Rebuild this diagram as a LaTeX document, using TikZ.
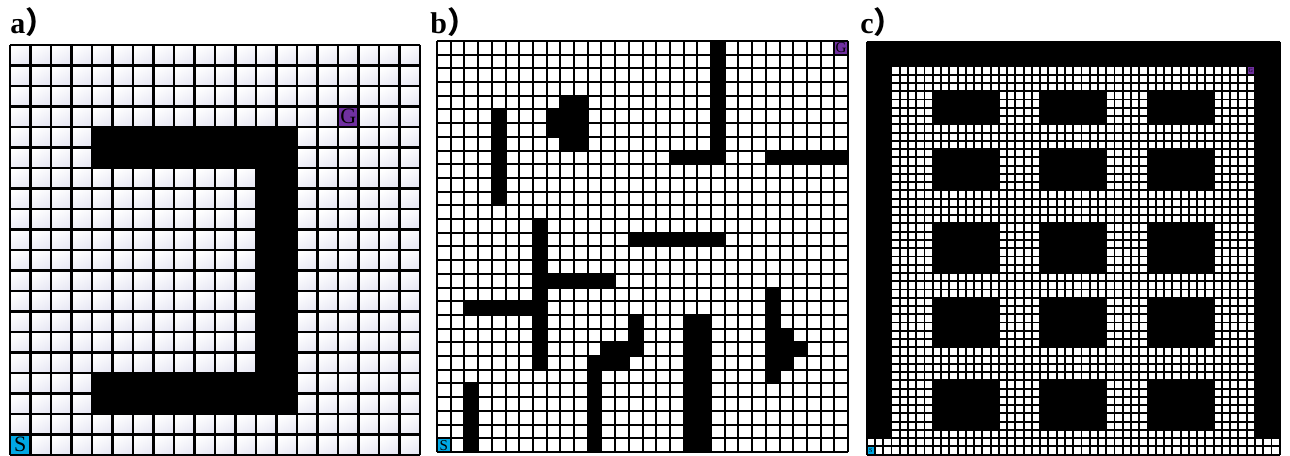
\documentclass[tikz,border=0pt]{standalone}
\usepackage{fontspec}
\setmainfont{Liberation Serif}
\newfontfamily\cjkfont{Noto Sans CJK SC}
\usetikzlibrary{positioning}
\definecolor{startblue}{RGB}{0,168,228}
\definecolor{goalpurple}{RGB}{112,48,160}
\definecolor{cellgray}{RGB}{232,232,244}
\tikzset{
  cellfill/.style={top color=white,bottom color=cellgray,shading angle=30},
  gridline/.style={draw=black,line width=#1},
  wall/.style={fill=black},
  startcell/.style={fill=startblue},
  goalcell/.style={fill=goalpurple},
  celltext/.style={inner sep=0pt,text=black,font=\fontsize{#1}{#1}\selectfont},
  panellabel/.style={anchor=base west,inner sep=0pt,font=\fontsize{15}{18}\selectfont\bfseries},
}

\begin{document}
\begin{tikzpicture}[x=0.5pt,y=0.5pt]
  \useasboundingbox (0,0) rectangle (1290,455);
  \node[panellabel] (la) at (10,421) {a{\cjkfont ）}};
  \node[panellabel] (lb) at (430,421) {b{\cjkfont ）}};
  \node[panellabel] (lc) at (860,421) {c{\cjkfont ）}};

  % a) 20 x 20
  \begin{scope}[shift={(10,410)},x=10.25pt,y=-10.25pt]
    \foreach \c in {0,...,19}
      \foreach \r in {0,...,19}
        \shade[cellfill] (\c,\r) rectangle ++(1,1);
    \fill[startcell] (0,19) rectangle (1,20);
    \fill[goalcell] (16,3) rectangle (17,4);
    \foreach \i in {0,...,20} {
      \draw[gridline=1.1pt] (\i,0) -- (\i,20);
      \draw[gridline=1.1pt] (0,\i) -- (20,\i);
    }
    \fill[wall] (4,4) rectangle (14,6);
    \fill[wall] (12,6) rectangle (14,16);
    \fill[wall] (4,16) rectangle (14,18);
    \node[celltext=11] (sa) at (0.5,19.5) {S};
    \node[celltext=11] (ga) at (16.5,3.5) {G};
  \end{scope}

  % b) 30 x 30
  \begin{scope}[shift={(437,414)},x=6.85pt,y=-6.85pt]
    \fill[startcell] (0,29) rectangle (1,30);
    \fill[goalcell] (29,0) rectangle (30,1);
    \foreach \i in {0,...,30} {
      \draw[gridline=1pt] (\i,0) -- (\i,30);
      \draw[gridline=1pt] (0,\i) -- (30,\i);
    }
    \foreach \ca/\ra/\cb/\rb in {20/0/21/9, 17/8/21/9, 24/8/30/9, 4/5/5/12,
        9/4/11/8, 8/5/9/7, 7/13/8/24, 14/14/21/15, 8/17/13/18, 2/19/8/20,
        2/25/3/30, 14/20/15/23, 12/22/15/23, 11/23/14/24, 11/23/12/30,
        18/20/20/30, 24/18/25/25, 25/21/26/24, 26/22/27/23}
      \fill[wall] (\ca,\ra) rectangle (\cb,\rb);
    \node[celltext=7.5] (sb) at (0.5,29.5) {S};
    \node[celltext=7.5] (gb) at (29.5,0.5) {G};
  \end{scope}

  % c) 50 x 50
  \begin{scope}[shift={(866.7,413.3)},x=4.13pt,y=-4.13pt]
    \fill[startcell] (0,49) rectangle (1,50);
    \fill[goalcell] (46,3) rectangle (47,4);
    \foreach \i in {0,...,50} {
      \draw[gridline=0.95pt] (\i,0) -- (\i,50);
      \draw[gridline=0.95pt] (0,\i) -- (50,\i);
    }
    \fill[wall] (0,0) rectangle (50,3);
    \fill[wall] (0,3) rectangle (3,48);
    \fill[wall] (47,3) rectangle (50,48);
    \foreach \ca in {8,21,34}
      \foreach \ra/\h in {6/4,13/5,22/6,31/6,41/6}
        \fill[wall] (\ca,\ra) rectangle ++(8,\h);
    \node[celltext=3] (sc) at (0.5,49.5) {S};
    \node[celltext=3] (gc) at (46.5,3.5) {G};
  \end{scope}
\end{tikzpicture}
\end{document}
